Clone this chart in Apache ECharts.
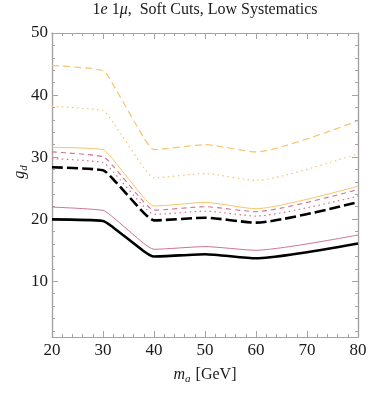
<!DOCTYPE html>
<html>
<head>
<meta charset="utf-8">
<script src="https://cdn.jsdelivr.net/npm/echarts@6/dist/echarts.min.js"></script>
<style>
  html, body { margin: 0; padding: 0; background: #fff; }
  #chart { width: 374px; height: 396px; }
</style>
</head>
<body>
<div id="chart"></div>
<script>
const massGeV = [20, 30, 32, 38, 40, 50, 60, 80];

// g_d limits, one array per curve
const orangeDashed = [44.75, 43.94, 41.65, 33.11, 31.2, 32.0, 30.84, 35.86];
const orangeDotted = [38.16, 37.47, 35.52, 28.28, 26.66, 27.35, 26.22, 30.56];
const orangeSolid = [31.57, 31.2, 29.56, 23.47, 22.1, 22.69, 21.68, 25.31];
const pinkDashed = [30.84, 30.08, 28.53, 22.75, 21.45, 22.0, 21.2, 24.78];
const pinkDotted = [29.76, 29.12, 27.62, 22.01, 20.76, 21.29, 20.49, 23.7];
const blackDashed = [28.36, 27.88, 26.43, 21.01, 19.8, 20.23, 19.43, 22.74];
const pinkSolid = [21.94, 21.41, 20.28, 16.08, 15.14, 15.57, 14.98, 17.44];
const blackSolid = [19.96, 19.69, 18.66, 14.83, 13.97, 14.34, 13.69, 16.06];

// tick values on the g_d axis
const yMajorTicks = [10, 20, 30, 40, 50];
const yMinorTicks = [2, 4, 6, 8, 12, 14, 16, 18, 22, 24, 26, 28, 32, 34, 36, 38, 42, 44, 46, 48];

const orange = "#f8c46c";
const pink = "#cf7390";
const frame = "#a3a3a3";
const serif = "Liberation Serif";

function pairs(ys) {
  return massGeV.map((x, i) => [x, ys[i]]);
}

function line(data, color, width, type) {
  return {
    type: "line",
    data: pairs(data),
    showSymbol: false,
    smooth: 0.2,
    lineStyle: { color: color, width: width, type: type, cap: "butt" },
    z: 3
  };
}

function yAxisDef(pos, ticks, len, labels) {
  return {
    type: "value",
    position: pos,
    min: 1,
    max: 50,
    axisLine: { show: true, onZero: false, lineStyle: { color: frame, width: 1.2 } },
    axisTick: { show: true, inside: true, length: len, customValues: ticks, lineStyle: { color: frame } },
    axisLabel: {
      show: labels,
      customValues: ticks,
      margin: 4,
      fontFamily: serif,
      fontSize: 17,
      color: "#1a1a1a"
    },
    splitLine: { show: false }
  };
}

let chart = echarts.init(document.getElementById("chart"));
chart.setOption({
  backgroundColor: "#fff",
  animation: false,
  grid: { left: 52, right: 16, top: 33, bottom: 59 },
  graphic: [
    {
      type: "text",
      x: 205,
      y: 10,
      style: {
        text: "1{i|e} 1{i|μ},  Soft Cuts, Low Systematics",
        align: "center",
        verticalAlign: "middle",
        fontFamily: serif,
        fontSize: 16,
        fill: "#1a1a1a",
        rich: { i: { fontFamily: serif, fontSize: 16, fontStyle: "italic" } }
      }
    },
    {
      // y axis title, placed a little above the plot middle as in the original
      type: "text",
      x: 20,
      y: 172,
      rotation: Math.PI / 2,
      style: {
        text: "{i|g}{s|d}",
        align: "center",
        verticalAlign: "middle",
        fontFamily: serif,
        fontSize: 16,
        fill: "#1a1a1a",
        rich: {
          i: { fontFamily: serif, fontSize: 16, fontStyle: "italic" },
          s: { fontFamily: serif, fontSize: 11, fontStyle: "italic", padding: [9, 0, 0, 0] }
        }
      }
    }
  ],
  xAxis: [
    {
      type: "value",
      position: "bottom",
      min: 20,
      max: 80,
      interval: 10,
      name: "{i|m}{s|a} [GeV]",
      nameLocation: "middle",
      nameGap: 28,
      nameTextStyle: {
        fontFamily: serif,
        fontSize: 16,
        color: "#1a1a1a",
        rich: {
          i: { fontFamily: serif, fontSize: 16, fontStyle: "italic" },
          s: { fontFamily: serif, fontSize: 11, fontStyle: "italic", padding: [9, 1, 0, 0] }
        }
      },
      axisLine: { show: true, onZero: false, lineStyle: { color: frame, width: 1.2 } },
      axisTick: { show: true, inside: true, length: 6, lineStyle: { color: frame } },
      minorTick: { show: true, splitNumber: 5, length: 3, lineStyle: { color: frame } },
      axisLabel: { margin: 5, fontFamily: serif, fontSize: 17, color: "#1a1a1a" },
      splitLine: { show: false },
      minorSplitLine: { show: false }
    },
    {
      type: "value",
      position: "top",
      min: 20,
      max: 80,
      interval: 10,
      axisLine: { show: true, onZero: false, lineStyle: { color: frame, width: 1.2 } },
      axisTick: { show: true, inside: true, length: 6, lineStyle: { color: frame } },
      minorTick: { show: true, splitNumber: 5, length: 3, lineStyle: { color: frame } },
      axisLabel: { show: false },
      splitLine: { show: false },
      minorSplitLine: { show: false }
    }
  ],
  yAxis: [
    yAxisDef("left", yMajorTicks, 6, true),
    yAxisDef("left", yMinorTicks, 3, false),
    yAxisDef("right", yMajorTicks, 6, false),
    yAxisDef("right", yMinorTicks, 3, false)
  ],
  series: [
    line(orangeDashed, orange, 1.2, [7, 4]),
    line(orangeDotted, orange, 1.2, [1.5, 3.5]),
    line(orangeSolid, orange, 1, "solid"),
    line(pinkDashed, pink, 1.1, [5, 4]),
    line(pinkDotted, pink, 1.2, [1.5, 3.5]),
    line(blackDashed, "#000", 2.6, [11, 4]),
    line(pinkSolid, pink, 1, "solid"),
    line(blackSolid, "#000", 2.6, "solid")
  ]
});
window.addEventListener("resize", () => {
  chart.resize();
});
</script>
</body>
</html>
